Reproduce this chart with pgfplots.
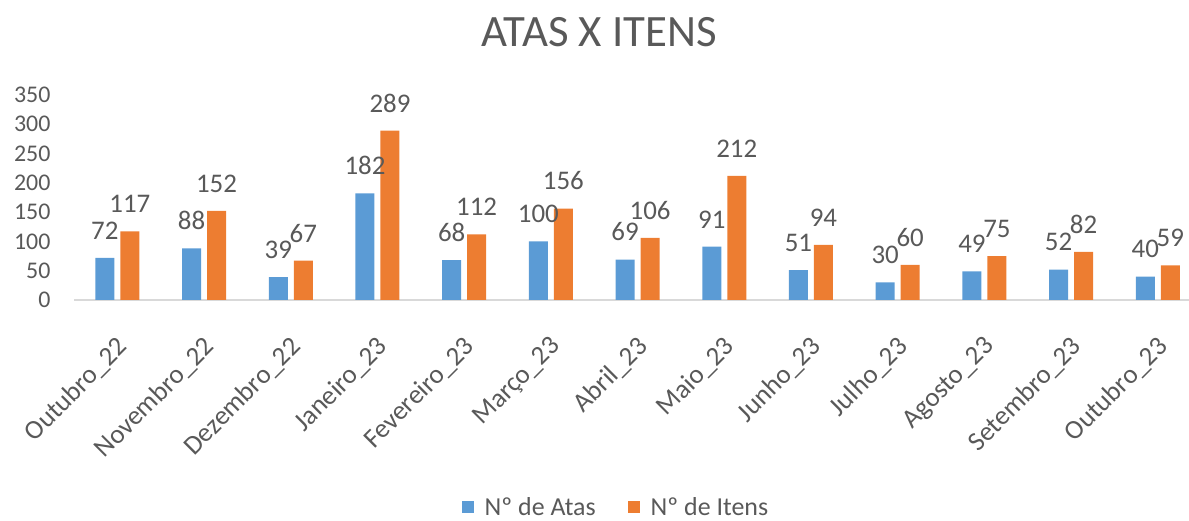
\documentclass[border=0pt]{standalone}
\usepackage{pgfplots}
\pgfplotsset{compat=1.18}
\usepackage{fontspec}
\setmainfont{Carlito}
\definecolor{tgrey}{HTML}{595959}
\definecolor{cblue}{HTML}{5B9BD5}
\definecolor{corange}{HTML}{ED7D31}
\definecolor{lgrey}{HTML}{D9D9D9}
\begin{document}
\begin{tikzpicture}[x=1bp,y=1bp]
\path[use as bounding box] (0,0) rectangle (1189,521);
\node[text=tgrey, font=\fontsize{45}{52}\selectfont] at (599,489) {ATAS X ITENS};
\begin{axis}[
  at={(74bp,221bp)}, anchor=south west,
  scale only axis, width=1115bp, height=205bp,
  xmin=-0.5, xmax=12.36, ymin=0, ymax=350,
  ytick={0,50,...,350},
  xtick={0,...,12},
  xticklabels={Outubro\_22,Novembro\_22,Dezembro\_22,Janeiro\_23,Fevereiro\_23,Março\_23,Abril\_23,Maio\_23,Junho\_23,Julho\_23,Agosto\_23,Setembro\_23,Outubro\_23},
  axis x line*=bottom, axis y line*=left,
  x axis line style={lgrey, line width=2bp, -},
  y axis line style={draw=none},
  major tick length=0pt, tick style={draw=none},
  yticklabel style={text=tgrey, font=\fontsize{24}{28}\selectfont, xshift=-20bp},
  /pgf/number format/assume math mode=true,
  xticklabel style={text=tgrey, font=\fontsize{27}{32}\selectfont, xshift=-2bp, yshift=-30bp, rotate=45, anchor=north east},
  ybar, bar width=19bp,
  nodes near coords,
  every node near coord/.append style={font=\fontsize{27}{32}\selectfont, text=tgrey, yshift=15bp},
  clip=false,
  legend columns=2,
  legend style={at={(0.486,-1.01)}, anchor=center, draw=none, fill=none, font=\fontsize{26}{30}\selectfont, text=tgrey,
    /tikz/every odd column/.append style={column sep=9bp},
    /tikz/every even column/.append style={column sep=30bp}},
  legend image code/.code={\fill[#1] (0bp,-6bp) rectangle (12bp,6bp);},
]
\addplot[fill=cblue, draw=none, bar shift=-12.5bp] coordinates {(0,72) (1,88) (2,39) (3,182) (4,68) (5,100) (6,69) (7,91) (8,51) (9,30) (10,49) (11,52) (12,40)};
\addplot[fill=corange, draw=none, bar shift=12.5bp] coordinates {(0,117) (1,152) (2,67) (3,289) (4,112) (5,156) (6,106) (7,212) (8,94) (9,60) (10,75) (11,82) (12,59)};
\legend{Nº de Atas, Nº de Itens}
\end{axis}
\end{tikzpicture}
\end{document}
